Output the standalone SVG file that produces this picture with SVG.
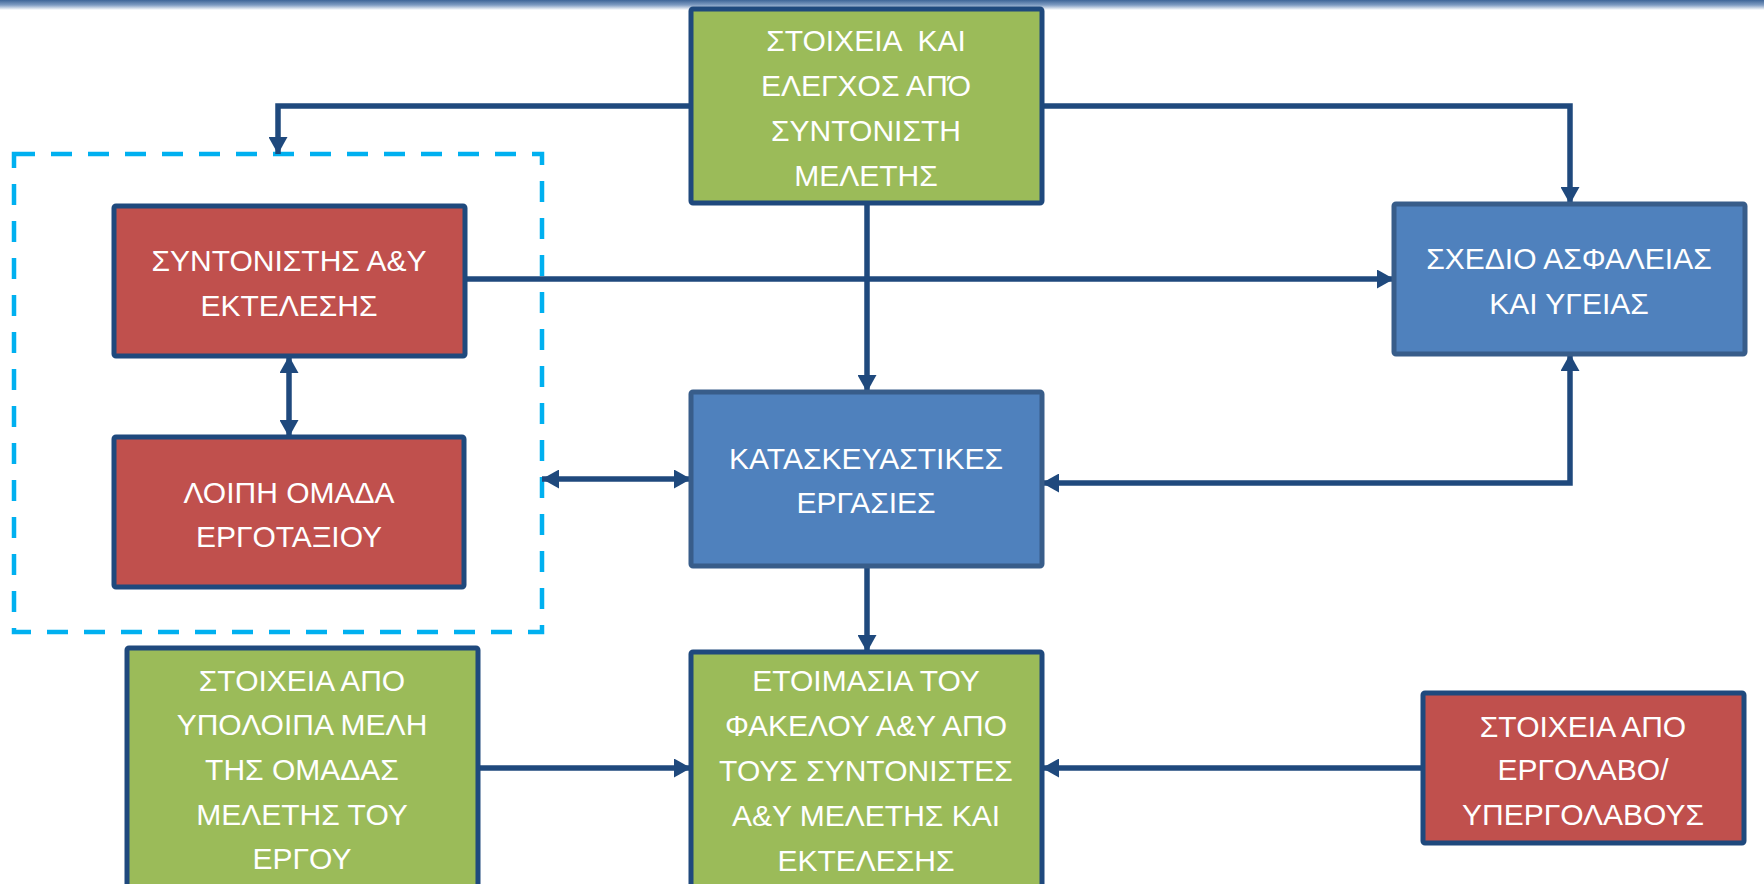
<svg xmlns="http://www.w3.org/2000/svg" width="1764" height="884" viewBox="0 0 1764 884">
<style>
.box{stroke-width:5}
.green{fill:#9BBB59;stroke:#1F497D}
.red{fill:#C0504D;stroke:#1F497D}
.blue{fill:#4F81BD;stroke:#385D8A}
.t{font-family:"Liberation Sans",Arial,sans-serif;font-size:30px;fill:#FFFFFF;text-anchor:middle}
.c{fill:none;stroke:#1F497D;stroke-width:5.5}
</style>
<defs>
<linearGradient id="bar" x1="0" y1="0" x2="0" y2="1">
<stop offset="0" stop-color="#3E6597"/>
<stop offset="0.5" stop-color="#7F9CC2"/>
<stop offset="1" stop-color="#FFFFFF"/>
</linearGradient>
<marker id="ah" markerUnits="userSpaceOnUse" markerWidth="18" markerHeight="19" refX="17" refY="9.5" orient="auto-start-reverse">
<path d="M0,0 L17,9.5 L0,19 Z" fill="#1F497D"/>
</marker>
</defs>
<rect x="0" y="0" width="1764" height="884" fill="#FFFFFF"/>
<rect x="0" y="0" width="1764" height="10" fill="url(#bar)"/>

<g id="group-dashed">
<rect x="14" y="154" width="528" height="478" fill="none" stroke="#00B0F0" stroke-width="4.5" stroke-dasharray="21 16"/>
</g>

<g id="connectors">
<path class="c" d="M691,106 H278 V154" marker-end="url(#ah)"/>
<path class="c" d="M1042,106 H1570 V204" marker-end="url(#ah)"/>
<path class="c" d="M465,279 H1394" marker-end="url(#ah)"/>
<path class="c" d="M867,203 V392" marker-end="url(#ah)"/>
<path class="c" d="M289,356 V437" marker-start="url(#ah)" marker-end="url(#ah)"/>
<path class="c" d="M542,479 H691" marker-start="url(#ah)" marker-end="url(#ah)"/>
<path class="c" d="M1042,483 H1570 V354" marker-start="url(#ah)" marker-end="url(#ah)"/>
<path class="c" d="M867,566 V652" marker-end="url(#ah)"/>
<path class="c" d="M478,768 H691" marker-end="url(#ah)"/>
<path class="c" d="M1423,768 H1042" marker-end="url(#ah)"/>
</g>

<g id="node-stoixeia-meletis">
<rect class="box green" x="691" y="9" width="351" height="194" rx="2"/>
<text class="t" x="866" y="51" xml:space="preserve">ΣΤΟΙΧΕΙΑ  ΚΑΙ</text>
<text class="t" x="866" y="96">ΕΛΕΓΧΟΣ ΑΠΌ</text>
<text class="t" x="866" y="141">ΣΥΝΤΟΝΙΣΤΗ</text>
<text class="t" x="866" y="186">ΜΕΛΕΤΗΣ</text>
</g>

<g id="node-syntonistis">
<rect class="box red" x="114" y="206" width="351" height="150" rx="2"/>
<text class="t" x="289" y="271">ΣΥΝΤΟΝΙΣΤΗΣ Α&amp;Υ</text>
<text class="t" x="289" y="316">ΕΚΤΕΛΕΣΗΣ</text>
</g>

<g id="node-loipi-omada">
<rect class="box red" x="114" y="437" width="350" height="150" rx="2"/>
<text class="t" x="289" y="503">ΛΟΙΠΗ ΟΜΑΔΑ</text>
<text class="t" x="289" y="547">ΕΡΓΟΤΑΞΙΟΥ</text>
</g>

<g id="node-sxedio">
<rect class="box blue" x="1394" y="204" width="351" height="150" rx="2"/>
<text class="t" x="1569" y="269">ΣΧΕΔΙΟ ΑΣΦΑΛΕΙΑΣ</text>
<text class="t" x="1569" y="314">ΚΑΙ ΥΓΕΙΑΣ</text>
</g>

<g id="node-kataskeuastikes">
<rect class="box blue" x="691" y="392" width="351" height="174" rx="2"/>
<text class="t" x="866" y="469">ΚΑΤΑΣΚΕΥΑΣΤΙΚΕΣ</text>
<text class="t" x="866" y="513">ΕΡΓΑΣΙΕΣ</text>
</g>

<g id="node-etoimasia">
<rect class="box green" x="691" y="652" width="351" height="260" rx="2"/>
<text class="t" x="866" y="691">ΕΤΟΙΜΑΣΙΑ ΤΟΥ</text>
<text class="t" x="866" y="736">ΦΑΚΕΛΟΥ Α&amp;Υ ΑΠΟ</text>
<text class="t" x="866" y="781">ΤΟΥΣ ΣΥΝΤΟΝΙΣΤΕΣ</text>
<text class="t" x="866" y="826">Α&amp;Υ ΜΕΛΕΤΗΣ ΚΑΙ</text>
<text class="t" x="866" y="871">ΕΚΤΕΛΕΣΗΣ</text>
</g>

<g id="node-ypoloipa-meli">
<rect class="box green" x="127" y="648" width="351" height="264" rx="2"/>
<text class="t" x="302" y="691">ΣΤΟΙΧΕΙΑ ΑΠΟ</text>
<text class="t" x="302" y="735">ΥΠΟΛΟΙΠΑ ΜΕΛΗ</text>
<text class="t" x="302" y="780">ΤΗΣ ΟΜΑΔΑΣ</text>
<text class="t" x="302" y="825">ΜΕΛΕΤΗΣ ΤΟΥ</text>
<text class="t" x="302" y="869">ΕΡΓΟΥ</text>
</g>

<g id="node-ergolavos">
<rect class="box red" x="1423" y="693" width="321" height="150" rx="2"/>
<text class="t" x="1583" y="737">ΣΤΟΙΧΕΙΑ ΑΠΟ</text>
<text class="t" x="1583" y="780">ΕΡΓΟΛΑΒΟ/</text>
<text class="t" x="1583" y="825">ΥΠΕΡΓΟΛΑΒΟΥΣ</text>
</g>
</svg>
